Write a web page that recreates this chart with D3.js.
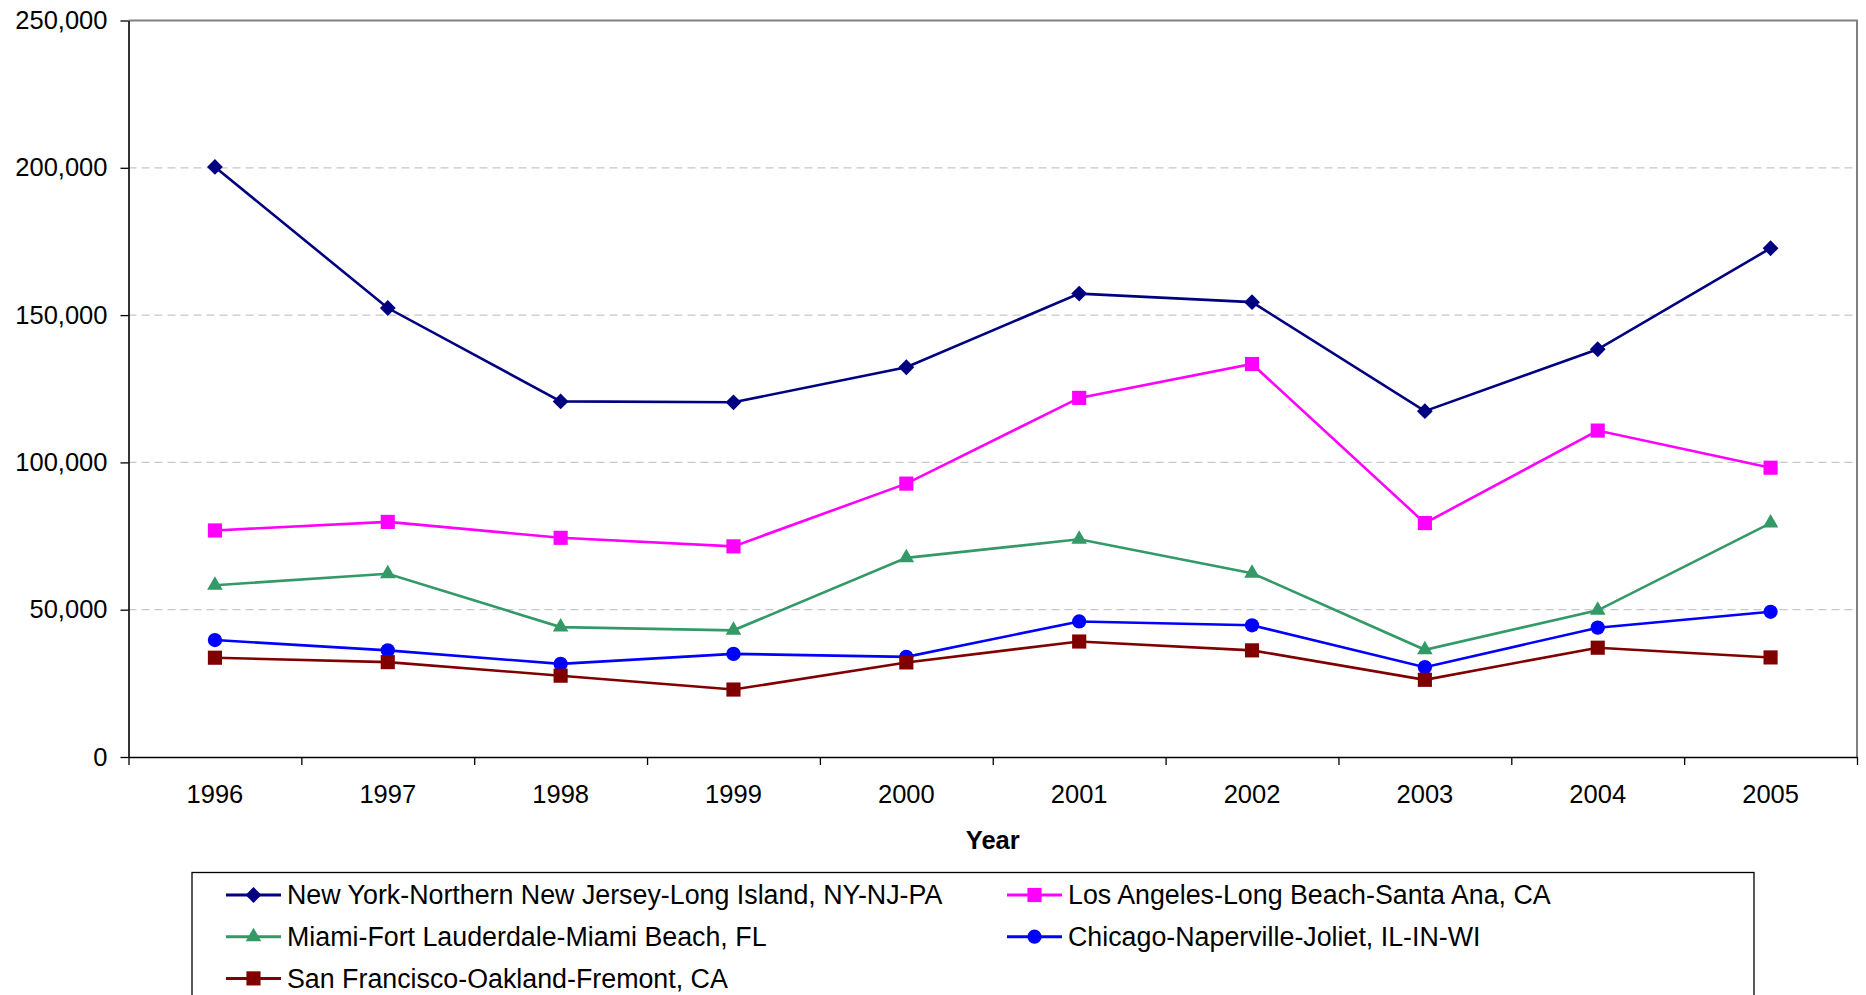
<!DOCTYPE html>
<html>
<head>
<meta charset="utf-8">
<script src="https://cdn.jsdelivr.net/npm/d3@7"></script>
<style>
    body { margin: 0; background: #ffffff; }
    svg { display: block; font-family: "Liberation Sans", Arial, sans-serif; }
</style>
</head>
<body>
<svg id="chart" width="1866" height="995"></svg>
<script>
const years = ["1996", "1997", "1998", "1999", "2000", "2001", "2002", "2003", "2004", "2005"];
const yTicks = [0, 50000, 100000, 150000, 200000, 250000];

const newYork = [200300, 152400, 120700, 120400, 132300, 157300, 154400, 117400, 138400, 172700];
const losAngeles = [76900, 79800, 74400, 71500, 92800, 121900, 133400, 79400, 110800, 98200];
const miami = [58300, 62200, 44100, 43000, 67600, 73900, 62400, 36400, 49800, 79400];
const chicago = [39700, 36200, 31600, 35000, 34000, 46000, 44700, 30500, 43900, 49300];
const sanFrancisco = [33700, 32200, 27600, 22900, 32100, 39200, 36200, 26200, 37100, 33800];

const seriesNames = [
    "New York-Northern New Jersey-Long Island, NY-NJ-PA",
    "Los Angeles-Long Beach-Santa Ana, CA",
    "Miami-Fort Lauderdale-Miami Beach, FL",
    "Chicago-Naperville-Joliet, IL-IN-WI",
    "San Francisco-Oakland-Fremont, CA"
];

// build series table from the arrays above
const series = [
    { name: seriesNames[0], values: newYork, color: "#000080", shape: "diamond" },
    { name: seriesNames[1], values: losAngeles, color: "#ff00ff", shape: "square" },
    { name: seriesNames[2], values: miami, color: "#339966", shape: "triangle" },
    { name: seriesNames[3], values: chicago, color: "#0000ff", shape: "circle" },
    { name: seriesNames[4], values: sanFrancisco, color: "#800000", shape: "square" }
];

const svg = d3.select("#chart");
const plot = { left: 128.5, right: 1857, top: 20.5, bottom: 757 };

const x = d3.scaleBand()
    .domain(years)
    .range([plot.left, plot.right]);

const xEdges = d3.scaleLinear()
    .domain([0, years.length])
    .range([plot.left, plot.right]);

const y = d3.scaleLinear()
    .domain([0, 250000])
    .range([plot.bottom, plot.top]);

function markerPath(shape) {
    if (shape === "diamond") return d3.symbol(d3.symbolSquare, 125)();
    if (shape === "square") return d3.symbol(d3.symbolSquare, 200)();
    if (shape === "triangle") return d3.symbol(d3.symbolTriangle, 105)();
    return d3.symbol(d3.symbolCircle, 160)();
}

function markerTransform(shape, px, py) {
    return shape === "diamond"
        ? `translate(${px},${py}) rotate(45)`
        : `translate(${px},${py})`;
}

// gridlines
svg.append("g")
    .selectAll("line")
    .data(yTicks.filter(d => d > 0 && d < 250000))
    .enter()
    .append("line")
    .attr("x1", plot.left)
    .attr("x2", plot.right)
    .attr("y1", d => y(d))
    .attr("y2", d => y(d))
    .attr("stroke", "#c8c8c8")
    .attr("stroke-width", 1.2)
    .attr("stroke-dasharray", "8,5");

// top and right frame
svg.append("path")
    .attr("d", `M${plot.left},${plot.top}H${plot.right}V${plot.bottom}`)
    .attr("fill", "none")
    .attr("stroke", "#808080")
    .attr("stroke-width", 2);

// y axis
const yAxis = svg.append("g")
    .attr("transform", `translate(${plot.left},0)`)
    .call(d3.axisLeft(y)
        .tickValues(yTicks)
        .tickFormat(d3.format(","))
        .tickSize(8)
        .tickSizeOuter(0)
        .tickPadding(13));

yAxis.select(".domain").attr("stroke", "#000").attr("stroke-width", 1.6);
yAxis.selectAll(".tick line").attr("stroke", "#000").attr("stroke-width", 1.3);
yAxis.selectAll("text")
    .attr("fill", "#000")
    .style("font-size", "25.5px")
    .style("font-family", "\"Liberation Sans\", Arial, sans-serif");

// x axis tick marks at band edges
const xTickAxis = svg.append("g")
    .attr("transform", `translate(0,${plot.bottom})`)
    .call(d3.axisBottom(xEdges)
        .tickValues(d3.range(0, years.length + 1))
        .tickFormat("")
        .tickSize(8)
        .tickSizeOuter(0));

xTickAxis.select(".domain").attr("stroke", "#000").attr("stroke-width", 1.6);
xTickAxis.selectAll(".tick line").attr("stroke", "#000").attr("stroke-width", 1.3);

// x axis labels at band centres
const xLabelAxis = svg.append("g")
    .attr("transform", `translate(0,${plot.bottom})`)
    .call(d3.axisBottom(x).tickSize(0).tickPadding(28));

xLabelAxis.select(".domain").remove();
xLabelAxis.selectAll("text")
    .attr("fill", "#000")
    .style("font-size", "25.5px")
    .style("font-family", "\"Liberation Sans\", Arial, sans-serif");

svg.append("text")
    .attr("x", (plot.left + plot.right) / 2)
    .attr("y", 849)
    .attr("text-anchor", "middle")
    .style("font-size", "25.5px")
    .style("font-weight", 700)
    .text("Year");

// lines and markers
const line = d3.line()
    .x((d, i) => x(years[i]) + x.bandwidth() / 2)
    .y(d => y(d));

series.forEach(s => {
    const g = svg.append("g");

    g.append("path")
        .datum(s.values)
        .attr("d", line)
        .attr("fill", "none")
        .attr("stroke", s.color)
        .attr("stroke-width", 2.6);

    g.selectAll("path.marker")
        .data(s.values)
        .enter()
        .append("path")
        .attr("class", "marker")
        .attr("d", markerPath(s.shape))
        .attr("transform", (d, i) => markerTransform(s.shape, x(years[i]) + x.bandwidth() / 2, y(d)))
        .attr("fill", s.color);
});

// legend
const legend = svg.append("g");

legend.append("rect")
    .attr("x", 192)
    .attr("y", 872.5)
    .attr("width", 1754 - 192)
    .attr("height", 200)
    .attr("fill", "none")
    .attr("stroke", "#000")
    .attr("stroke-width", 1.3);

const colX = [226, 1007];
const rowY = [895, 936.7, 978.4];

series.forEach((s, i) => {
    const lx = colX[i % 2];
    const ly = rowY[Math.floor(i / 2)];
    const item = legend.append("g");

    item.append("line")
        .attr("x1", lx)
        .attr("x2", lx + 55)
        .attr("y1", ly)
        .attr("y2", ly)
        .attr("stroke", s.color)
        .attr("stroke-width", 3);

    item.append("path")
        .attr("d", markerPath(s.shape))
        .attr("transform", markerTransform(s.shape, lx + 27.5, ly))
        .attr("fill", s.color);

    item.append("text")
        .attr("x", lx + 61)
        .attr("y", ly)
        .attr("dy", "0.35em")
        .style("font-size", "26.8px")
        .text(s.name);
});
</script>
</body>
</html>
